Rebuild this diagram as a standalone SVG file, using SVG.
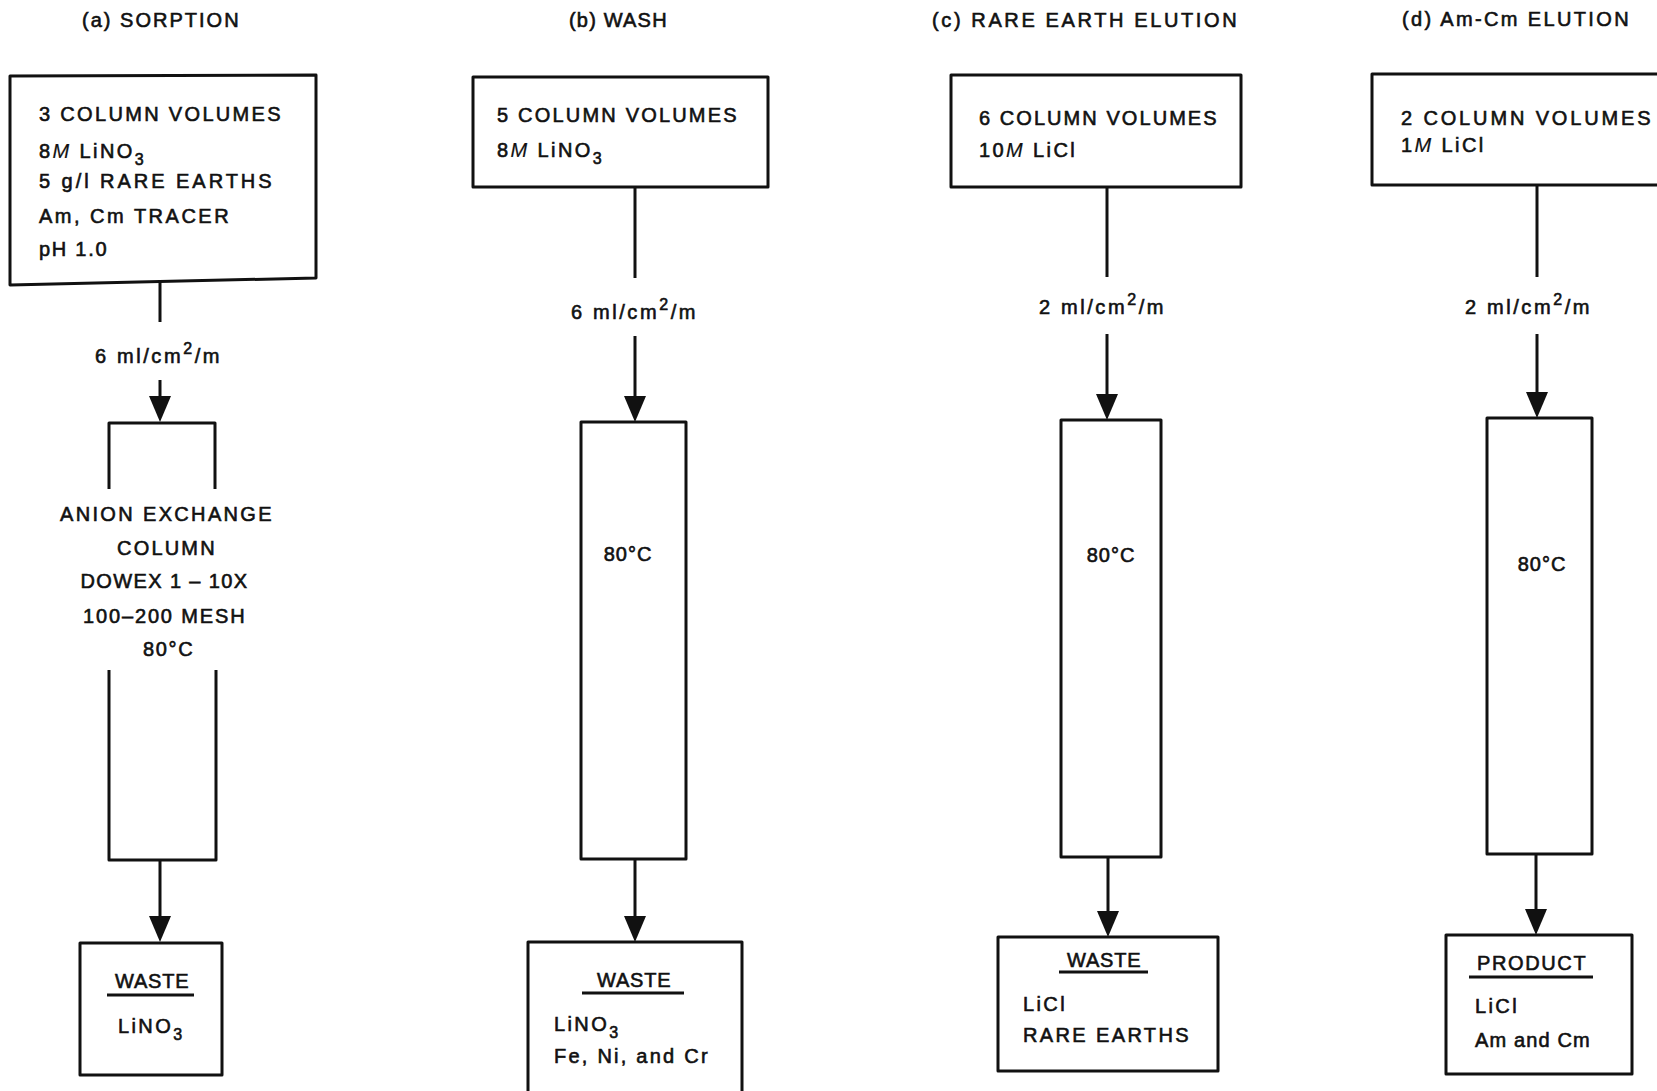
<svg xmlns="http://www.w3.org/2000/svg" width="1657" height="1091" viewBox="0 0 1657 1091">
<style>
text{font-family:"Liberation Sans",Arial,sans-serif;font-size:20px;fill:#111;stroke:#111;stroke-width:0.6px;letter-spacing:2.4px}
.box{fill:none;stroke:#111;stroke-width:3;stroke-linejoin:round}
.ul{stroke:#111;stroke-width:3}
.c{text-anchor:middle}
.con{fill:none;stroke:#111;stroke-width:3}
.it{font-style:italic;stroke-width:0.2px}
.sub{font-size:16px}
.t{letter-spacing:2.6px}
.t2{letter-spacing:1px}
</style>
<defs>
<marker id="ah" markerUnits="userSpaceOnUse" markerWidth="26" markerHeight="22" refX="16" refY="11" orient="auto">
<path d="M0,0 L26,11 L0,22 z" fill="#111"/>
</marker>
</defs>

<g id="titles">
<text x="82" y="27" textLength="159" lengthAdjust="spacing">(a) SORPTION</text>
<text x="569" y="27" textLength="100" lengthAdjust="spacing">(b) WASH</text>
<text x="932" y="27" textLength="307" lengthAdjust="spacing">(c) RARE EARTH ELUTION</text>
<text x="1402" y="26" textLength="229" lengthAdjust="spacing">(d) Am-Cm ELUTION</text>
</g>

<g id="feed-a">
<path class="box" d="M10,76 L316,75 L316,278 L10,285 Z"/>
<text x="39" y="121" textLength="244" lengthAdjust="spacing">3 COLUMN VOLUMES</text>
<text x="39" y="158">8<tspan class="it">M</tspan> LiNO<tspan class="sub" dy="7">3</tspan></text>
<text x="39" y="188" textLength="235" lengthAdjust="spacing">5 g/l RARE EARTHS</text>
<text x="39" y="223" textLength="192" lengthAdjust="spacing">Am, Cm TRACER</text>
<text x="39" y="256" textLength="70" lengthAdjust="spacing">pH 1.0</text>
</g>

<g id="feed-b">
<rect class="box" x="473" y="77" width="295" height="110"/>
<text x="497" y="122" textLength="242" lengthAdjust="spacing">5 COLUMN VOLUMES</text>
<text x="497" y="157">8<tspan class="it">M</tspan> LiNO<tspan class="sub" dy="7">3</tspan></text>
</g>

<g id="feed-c">
<rect class="box" x="951" y="75" width="290" height="112"/>
<text x="979" y="125" textLength="240" lengthAdjust="spacing">6 COLUMN VOLUMES</text>
<text x="979" y="157">10<tspan class="it">M</tspan> LiCl</text>
</g>

<g id="feed-d">
<rect class="box" x="1372" y="74" width="300" height="111"/>
<text x="1401" y="125" textLength="252" lengthAdjust="spacing">2 COLUMN VOLUMES</text>
<text x="1401" y="152">1<tspan class="it">M</tspan> LiCl</text>
</g>

<g id="flow-labels">
<text x="95" y="363" class="t">6 ml/cm<tspan class="sub" dy="-9">2</tspan><tspan dy="9">/m</tspan></text>
<text x="571" y="319" class="t">6 ml/cm<tspan class="sub" dy="-9">2</tspan><tspan dy="9">/m</tspan></text>
<text x="1039" y="314" class="t">2 ml/cm<tspan class="sub" dy="-9">2</tspan><tspan dy="9">/m</tspan></text>
<text x="1465" y="314" class="t">2 ml/cm<tspan class="sub" dy="-9">2</tspan><tspan dy="9">/m</tspan></text>
</g>

<g id="column-a">
<path class="box" d="M109,489 V423 H215 V489"/>
<path class="box" d="M109,670 V860 H216 V670"/>
<text class="c" x="167" y="521" textLength="214" lengthAdjust="spacing">ANION EXCHANGE</text>
<text class="c" x="167" y="555" textLength="100" lengthAdjust="spacing">COLUMN</text>
<text class="c" x="165" y="588" textLength="169" lengthAdjust="spacing">DOWEX 1 – 10X</text>
<text class="c" x="165" y="623" textLength="164" lengthAdjust="spacing">100–200 MESH</text>
<text class="c" x="169" y="656" textLength="52" lengthAdjust="spacing">80°C</text>
</g>

<g id="column-b">
<rect class="box" x="581" y="422" width="105" height="437"/>
<text class="c t2" x="628" y="561">80°C</text>
</g>

<g id="column-c">
<rect class="box" x="1061" y="420" width="100" height="437"/>
<text class="c t2" x="1111" y="562">80°C</text>
</g>

<g id="column-d">
<rect class="box" x="1487" y="418" width="105" height="436"/>
<text class="c t2" x="1542" y="571">80°C</text>
</g>

<g id="waste-a">
<rect class="box" x="80" y="943" width="142" height="132"/>
<text x="115" y="988" textLength="76" lengthAdjust="spacing">WASTE</text>
<line class="ul" x1="107" y1="995" x2="194" y2="995"/>
<text x="118" y="1033">LiNO<tspan class="sub" dy="7">3</tspan></text>
</g>

<g id="waste-b">
<rect class="box" x="528" y="942" width="214" height="170"/>
<text x="597" y="987" textLength="76" lengthAdjust="spacing">WASTE</text>
<line class="ul" x1="582" y1="993" x2="684" y2="993"/>
<text x="554" y="1031">LiNO<tspan class="sub" dy="7">3</tspan></text>
<text x="554" y="1063" textLength="156" lengthAdjust="spacing">Fe, Ni, and Cr</text>
</g>

<g id="waste-c">
<rect class="box" x="998" y="937" width="220" height="134"/>
<text x="1067" y="967" textLength="76" lengthAdjust="spacing">WASTE</text>
<line class="ul" x1="1059" y1="972" x2="1148" y2="972"/>
<text x="1023" y="1011">LiCl</text>
<text x="1023" y="1042" textLength="168" lengthAdjust="spacing">RARE EARTHS</text>
</g>

<g id="product-d">
<rect class="box" x="1446" y="935" width="186" height="139"/>
<text x="1477" y="970" textLength="111" lengthAdjust="spacing">PRODUCT</text>
<line class="ul" x1="1469" y1="977" x2="1593" y2="977"/>
<text x="1475" y="1013">LiCl</text>
<text x="1475" y="1047" textLength="117" lengthAdjust="spacing">Am and Cm</text>
</g>

<g id="connectors">
<line class="con" x1="160" y1="282" x2="160" y2="322"/>
<line class="con" x1="160" y1="380" x2="160" y2="412" marker-end="url(#ah)"/>
<line class="con" x1="160" y1="860" x2="160" y2="932" marker-end="url(#ah)"/>
<line class="con" x1="635" y1="187" x2="635" y2="278"/>
<line class="con" x1="635" y1="336" x2="635" y2="412" marker-end="url(#ah)"/>
<line class="con" x1="635" y1="859" x2="635" y2="932" marker-end="url(#ah)"/>
<line class="con" x1="1107" y1="187" x2="1107" y2="277"/>
<line class="con" x1="1107" y1="334" x2="1107" y2="410" marker-end="url(#ah)"/>
<line class="con" x1="1108" y1="857" x2="1108" y2="927" marker-end="url(#ah)"/>
<line class="con" x1="1537" y1="185" x2="1537" y2="277"/>
<line class="con" x1="1537" y1="334" x2="1537" y2="408" marker-end="url(#ah)"/>
<line class="con" x1="1536" y1="853" x2="1536" y2="925" marker-end="url(#ah)"/>
</g>
</svg>
